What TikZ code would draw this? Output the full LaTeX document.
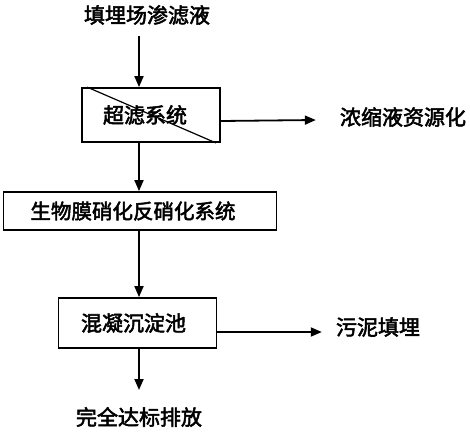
\documentclass[tikz,border=0pt]{standalone}
\usepackage{fontspec}
\newfontfamily\cjk{Noto Sans CJK SC}[AutoFakeBold=2.5]
\usetikzlibrary{arrows.meta,positioning,calc}

\begin{document}
\begin{tikzpicture}[
  x=1pt, y=-1pt,
  every node/.style = {font=\cjk\bfseries\fontsize{21}{24}\selectfont, inner sep=0pt},
  procbox/.style = {draw, line width=1.8pt, align=center},
  flow/.style = {line width=1.8pt, -{Triangle[length=11pt,width=9pt]}},
  ]

\useasboundingbox (0,0) rectangle (470,436);

\coordinate (spine) at (139,0);

\node (src) at (147,15) {填埋场渗滤液};
\node[procbox, minimum width=138pt, minimum height=54pt] (uf) at (151,115) {超滤系统\hspace{12pt}};
\draw[line width=1.2pt] (uf.north west) ++(6,0) -- ($(uf.south east)+(-5,0)$);
\node (conc) at (403,117) {浓缩液资源化};
\node[procbox, minimum width=273pt, minimum height=38pt, font=\cjk\bfseries\fontsize{20.5}{24}\selectfont] (bio) at (140,211) {生物膜硝化反硝化系统\hspace{14pt}};
\node[procbox, minimum width=158pt, minimum height=50pt] (coag) at (137.5,323) {混凝沉淀池\hspace{8pt}};
\node (sludge) at (378,327) {污泥填埋};
\node (dis) at (139,417) {完全达标排放};

\draw[flow] (src.south -| spine) ++(0,11) -- (uf.north -| spine);
\draw[flow] (uf.south -| spine) -- (bio.north -| spine);
\draw[flow] (bio.south -| spine) -- (coag.north -| spine);
\draw[flow] (coag.south -| spine) -- ($(dis.north -| spine)+(0,-17)$);
\draw[flow] ($(uf.east)+(0,6)$) -- ($(conc.west)+(-24,3)$);
\draw[flow] ($(coag.east)+(0,9)$) -- ($(sludge.west)+(-14,5)$);

\end{tikzpicture}
\end{document}
